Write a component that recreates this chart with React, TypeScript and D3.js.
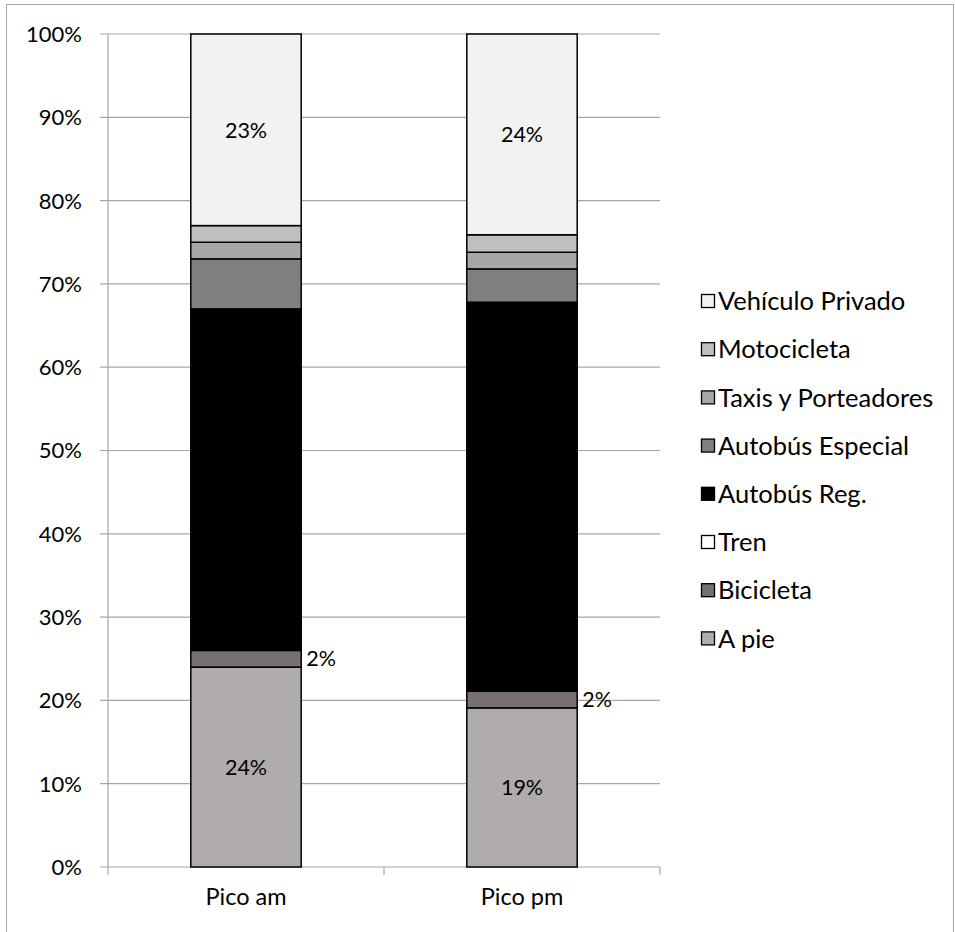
import React from "react";
import * as d3 from "d3";

const categories = ["Pico am", "Pico pm"];
const series = ["A pie", "Bicicleta", "Tren", "Autobús Reg.", "Autobús Especial", "Taxis y Porteadores", "Motocicleta", "Vehículo Privado"];
const colors = ["#b0acab", "#767170", "#ffffff", "#000000", "#808080", "#a6a6a6", "#bfbfbf", "#f2f2f2"];
const picoAm = [24, 2, 0, 41, 6, 2, 2, 23];
const picoPm = [19.1, 2, 0, 46.7, 4, 2, 2.1, 24.1];
const yTicks = [0, 10, 20, 30, 40, 50, 60, 70, 80, 90, 100];
const labelled = ["A pie", "Bicicleta", "Vehículo Privado"];

const W = 955, H = 932;
const FONT = "Lato, 'Open Sans', sans-serif";

export default function App() {
  const values = [picoAm, picoPm];
  const x = d3.scaleBand().domain(categories).range([108, 660]).paddingInner(0.6).paddingOuter(0.3);
  const xOuter = d3.scaleBand().domain(categories).range([108, 660]);
  const y = d3.scaleLinear().domain([0, 100]).range([867, 34]);

  const data = categories.map((c, ci) => {
    const row: any = { cat: c };
    series.forEach((s, si) => (row[s] = values[ci][si]));
    return row;
  });
  const stacked = d3.stack().keys(series)(data);

  return (
    <svg width={W} height={H} style={{ position: "absolute", left: 0, top: 0 }} fontFamily={FONT}>
      <rect x={6.5} y={4.5} width={947} height={940} fill="white" stroke="#a6a6a6" strokeWidth={1} />
      {yTicks.map((t) => (
        <g key={t}>
          <line x1={100} x2={660} y1={y(t)} y2={y(t)} stroke="#a6a6a6" strokeWidth={1.2} />
          <text x={82} y={y(t)} dy="0.36em" textAnchor="end" fontSize={22} fill="#000">{t}%</text>
        </g>
      ))}
      <line x1={108} x2={108} y1={34} y2={867} stroke="#a6a6a6" strokeWidth={1.2} />
      {[...categories.map((c) => xOuter(c)!), 660].map((v, i) => (
        <line key={i} x1={v} x2={v} y1={867} y2={875} stroke="#a6a6a6" strokeWidth={1.2} />
      ))}
      {stacked.map((layer, si) =>
        layer.map((d, ci) => {
          const h = y(d[0]) - y(d[1]);
          if (h <= 0) return null;
          return (
            <rect key={si + "-" + ci} x={x(categories[ci])} y={y(d[1])} width={x.bandwidth()} height={h}
              fill={colors[si]} stroke="#000" strokeWidth={1.5} />
          );
        })
      )}
      {stacked.map((layer, si) =>
        labelled.includes(series[si])
          ? layer.map((d, ci) => {
              const v = values[ci][si];
              const txt = `${Math.round(v)}%`;
              if (series[si] === "Bicicleta") {
                return (
                  <text key={"l" + si + ci} x={x(categories[ci])! + x.bandwidth() + 5} y={y((d[0] + d[1]) / 2)} dy="0.36em" fontSize={21.5}>{txt}</text>
                );
              }
              return (
                <text key={"l" + si + ci} x={x(categories[ci])! + x.bandwidth() / 2} y={y((d[0] + d[1]) / 2)} dy="0.36em" textAnchor="middle" fontSize={21.5}>{txt}</text>
              );
            })
          : null
      )}
      {categories.map((c) => (
        <text key={c} x={xOuter(c)! + xOuter.bandwidth() / 2} y={897} dy="0.36em" textAnchor="middle" fontSize={23.5}>{c}</text>
      ))}
      {series.slice().reverse().map((s, i) => {
        const si = series.length - 1 - i;
        const cy = 301 + i * 48.2;
        return (
          <g key={s}>
            <rect x={701.5} y={cy - 6.5} width={13} height={13} fill={colors[si]} stroke="#000" strokeWidth={1.3} />
            <text x={718} y={cy} dy="0.36em" fontSize={25.5}>{s}</text>
          </g>
        );
      })}
    </svg>
  );
}
